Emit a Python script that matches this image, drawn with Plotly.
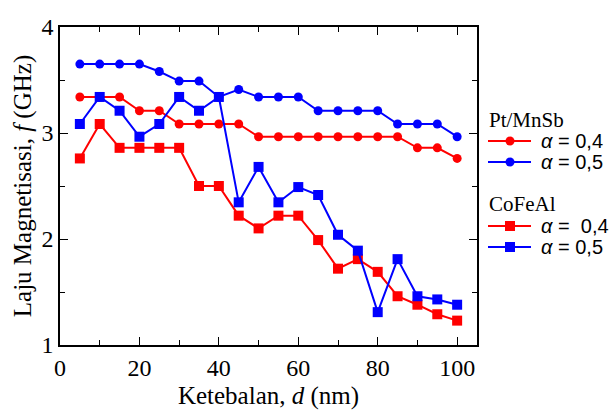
import plotly.graph_objects as go

d = [5, 10, 15, 20, 25, 30, 35, 40, 45, 50, 55, 60, 65, 70, 75, 80, 85, 90, 95, 100]

ptmnsb_a04 = [3.34, 3.34, 3.34, 3.21, 3.21, 3.085, 3.085, 3.085, 3.085, 2.965,
              2.965, 2.965, 2.965, 2.965, 2.965, 2.965, 2.965, 2.86, 2.86, 2.76]
ptmnsb_a05 = [3.65, 3.65, 3.65, 3.65, 3.58, 3.49, 3.49, 3.34, 3.41, 3.34,
              3.34, 3.34, 3.21, 3.21, 3.21, 3.21, 3.085, 3.085, 3.085, 2.965]
cofeal_a04 = [2.76, 3.085, 2.86, 2.86, 2.86, 2.86, 2.50, 2.50, 2.22, 2.10,
              2.22, 2.22, 1.99, 1.72, 1.81, 1.69, 1.46, 1.38, 1.29, 1.23]
cofeal_a05 = [3.085, 3.34, 3.21, 2.965, 3.085, 3.34, 3.21, 3.34, 2.346, 2.68,
              2.346, 2.49, 2.415, 2.04, 1.89, 1.31, 1.81, 1.46, 1.43, 1.38]

group_titles = ["Pt/MnSb", "CoFeAl"]
series_names = ["<i>α</i> = 0,4", "<i>α</i> = 0,5", "<i>α</i> =  0,4", "<i>α</i> = 0,5"]

RED = "#ff0000"
BLUE = "#0000ff"
SERIF = "Liberation Serif"
SANS = "Liberation Sans"

W, H = 612, 410
ML, MR, MT, MB = 60, 135, 27, 65
PW, PH = W - ML - MR, H - MT - MB

def px(xp):
    return (xp - ML) / PW

def py(yp):
    return (H - MB - yp) / PH

fig = go.Figure()
series = [
    (ptmnsb_a04, RED, "circle", 9, series_names[0]),
    (ptmnsb_a05, BLUE, "circle", 9, series_names[1]),
    (cofeal_a04, RED, "square", 10, series_names[2]),
    (cofeal_a05, BLUE, "square", 10, series_names[3]),
]
for ys, col, sym, sz, name in series:
    fig.add_trace(go.Scatter(
        x=d, y=ys, mode="lines+markers", name=name, showlegend=False,
        line=dict(color=col, width=2),
        marker=dict(color=col, symbol=sym, size=sz),
    ))

axis_common = dict(
    showline=True, linecolor="black", linewidth=1.5, mirror="ticks",
    ticks="inside", ticklen=8, tickwidth=1.2, tickcolor="black",
    showgrid=False, zeroline=False, automargin=False,
    tickfont=dict(size=24, family=SERIF, color="black"),
)
fig.update_xaxes(range=[0, 105], dtick=20, tick0=0,
                 minor=dict(ticks="inside", dtick=10, ticklen=5, tickcolor="black", tickwidth=1.2),
                 title=dict(text="Ketebalan, <i>d</i> (nm)", font=dict(size=25, family=SERIF, color="black"), standoff=8),
                 **axis_common)
fig.update_yaxes(range=[1, 4], dtick=1, tick0=1,
                 minor=dict(ticks="inside", dtick=0.5, ticklen=5, tickcolor="black", tickwidth=1.2),
                 title=dict(text="Laju Magnetisasi, <i>f</i> (GHz)", font=dict(size=25, family=SERIF, color="black"), standoff=3),
                 **axis_common)

# manual legend (pixel layout converted to paper coordinates)
shapes = []
annotations = []
title_y = [120, 204]
entry_y = [141, 162, 226, 247]
for t, yy in zip(group_titles, title_y):
    annotations.append(dict(x=px(487), y=py(yy), xref="paper", yref="paper", text=t,
                            showarrow=False, xanchor="left", yanchor="middle",
                            font=dict(size=21, family=SERIF, color="black")))
for (ys, col, sym, sz, name), yy in zip(series, entry_y):
    shapes.append(dict(type="line", xref="paper", yref="paper", x0=px(488), x1=px(531),
                       y0=py(yy), y1=py(yy), line=dict(color=col, width=2)))
    r = sz / 2
    shapes.append(dict(type="circle" if sym == "circle" else "rect", xref="paper", yref="paper",
                       x0=px(510 - r), x1=px(510 + r), y0=py(yy - r), y1=py(yy + r),
                       fillcolor=col, line=dict(color=col, width=0)))
    annotations.append(dict(x=px(539), y=py(yy), xref="paper", yref="paper", text=name,
                            showarrow=False, xanchor="left", yanchor="middle",
                            font=dict(size=20, family=SANS, color="black")))

fig.update_layout(
    width=W, height=H,
    margin=dict(l=ML, r=MR, t=MT, b=MB),
    plot_bgcolor="white", paper_bgcolor="white",
    font=dict(family=SERIF, color="black"),
    showlegend=False,
    shapes=shapes, annotations=annotations,
)

fig.write_html("out.html")
